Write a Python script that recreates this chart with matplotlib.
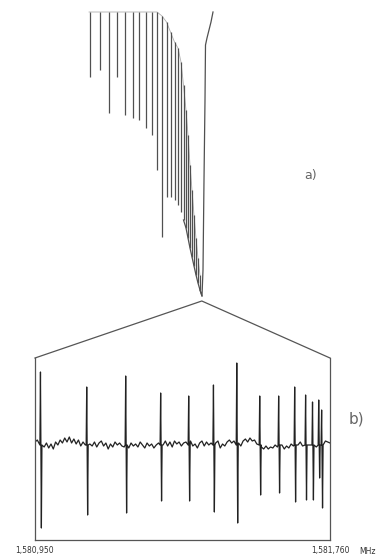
import numpy as np
import matplotlib
matplotlib.use("Agg")
import matplotlib.pyplot as plt

# ---- panel a) : overview of the band (arbitrary units) ----
# line positions, where each dip starts and how deep it goes
a_pos = [10, 20, 29, 37, 45, 53, 59, 66, 72, 77, 82, 86.5, 90.5, 94.5, 98,
         101, 103.5, 106, 108, 110, 112, 114, 116, 118, 120]
a_top = [0, 0, 0, 0, 0, 0, 0, 0, 0, 0, -4, -10, -20, -30, -36,
         -50, -73, -98, -123, -153, -178, -203, -226, -246, -263]
a_bottom = [-65, -58, -101, -65, -103, -106, -108, -116, -123, -158, -225, -185, -185, -188, -193,
            -200, -208, -216, -226, -236, -245, -254, -263, -271, -278]
# band head and the returning branch
a_head = (122, -284)
a_back_pos = [123, 124, 125, 125.5, 127, 129, 131, 133]
a_back_int = [-258, -168, -88, -33, -26, -18, -10, 0]

# ---- panel b) : zoomed scan ----
f_start = 1580950
f_end = 1581760
zoom_center = 1581408   # where panel a's band head sits on the b) scale
b_peak_mhz = [1580966, 1581093, 1581200, 1581296, 1581373, 1581441, 1581505,
              1581568, 1581620, 1581664, 1581694, 1581713, 1581730, 1581738]
b_peak_up = [73, 58, 69, 52, 49, 60, 82, 49, 49, 58, 50, 43, 45, 35]
b_peak_down = [-83, -70, -68, -56, -56, -67, -78, -50, -48, -57, -55, -55, -33, -63]
# baseline noise, evenly sampled over the sweep
b_noise = [3, 5, 2, 4,
           -2, 2, -3, 1, -4, 3, 0, 5, 2, 7, 3, 8, 2, 6, 1, 5, -1, 3, 0,
           -3, 1, -1, 3, -2, 2, 4, -1, 2, -4, 1, -2, 3, 0, 2, -1,
           -2, 1, -3, 2, -1, 1, -2, 3, 0, -3, 2, -1, 1, -3, 0, 2,
           3, 0, 4, -1, 3, -2, 4, 1, 3, -1, 2,
           3, -2, 4, -1, 1, -3, 2, 4, -1, 3, 0, 2,
           -2, 2, 4, -3, 1, -1, 3, 5, 2, 4, 1,
           2, -1, 4, 6, 3, 7, 4, 5, 1, 2,
           -2, -4, -1, -4, -2, -3, 0, -2,
           -3, 0, -4, -1, -3, 1, -1,
           2, 0, 3, -1, 4, 2, 0, 4, 1, -2, 3, 5, 2, 4, 3, 2]

fig = plt.figure(figsize=(3.78, 5.56), dpi=100)

# panel a
axa = fig.add_axes([80/378, 251/556, 140/378, 300/556])
# faint top trace joining the dips
xs, ys = [9], [0]
for p, t in zip(a_pos, a_top):
    xs.append(p)
    ys.append(t)
axa.plot(xs, ys, color="#b0b0b0", lw=0.6)
# the dips themselves
axa.vlines(a_pos, a_bottom, a_top, color="#505050", lw=0.9)
# band head and the way back up
axa.plot([a_pos[-1], a_head[0]] + a_back_pos,
         [a_bottom[-1], a_head[1]] + a_back_int, color="#505050", lw=0.9)
axa.plot(a_pos[16:] + [a_head[0]], a_bottom[16:] + [a_head[1]],
         color="#505050", lw=0.9)
axa.set_xlim(0, 140)
axa.set_ylim(-293, 7)
axa.axis("off")

# panel b
axb = fig.add_axes([35/378, 16/556, 295/378, 182/556])
step = (f_end - f_start) / (len(b_noise) - 1)
pts = []
for i, v in enumerate(b_noise):
    f = f_start + i * step
    if min(abs(f - pk) for pk in b_peak_mhz) > 3.5:
        pts.append((f, v))
for f, up, dn in zip(b_peak_mhz, b_peak_up, b_peak_down):
    pts += [(f - 2.5, 0), (f - 1, up), (f + 1.5, dn), (f + 3, 0)]
pts.sort()
axb.plot([p[0] for p in pts], [p[1] for p in pts], color="#222222", lw=0.9)
y_lo, y_hi = -95, 87
axb.set_xlim(f_start, f_end)
axb.set_ylim(y_lo, y_hi)
axb.spines["top"].set_visible(False)
for s in ["left", "right", "bottom"]:
    axb.spines[s].set_color("#555555")
    axb.spines[s].set_linewidth(0.9)
axb.plot([f_start, zoom_center, f_end], [y_hi, 144, y_hi], color="#555555",
         lw=0.9, clip_on=False)
axb.set_yticks([])
axb.set_xticks([f_start, f_end])
axb.set_xticklabels(["1,580,950", "1,581,760"], fontsize=5.5, color="#333333")
axb.tick_params(axis="x", length=0, pad=4.5)

fig.text(368/378, 1 - 551/556, "MHz", fontsize=5.5, color="#333333",
         ha="center", va="center")
fig.text(311/378, 1 - 175/556, "a)", fontsize=9, color="#666666",
         ha="center", va="center")
fig.text(356/378, 1 - 419/556, "b)", fontsize=11, color="#666666",
         ha="center", va="center")

fig.savefig("out.png", dpi=100, facecolor="white")
